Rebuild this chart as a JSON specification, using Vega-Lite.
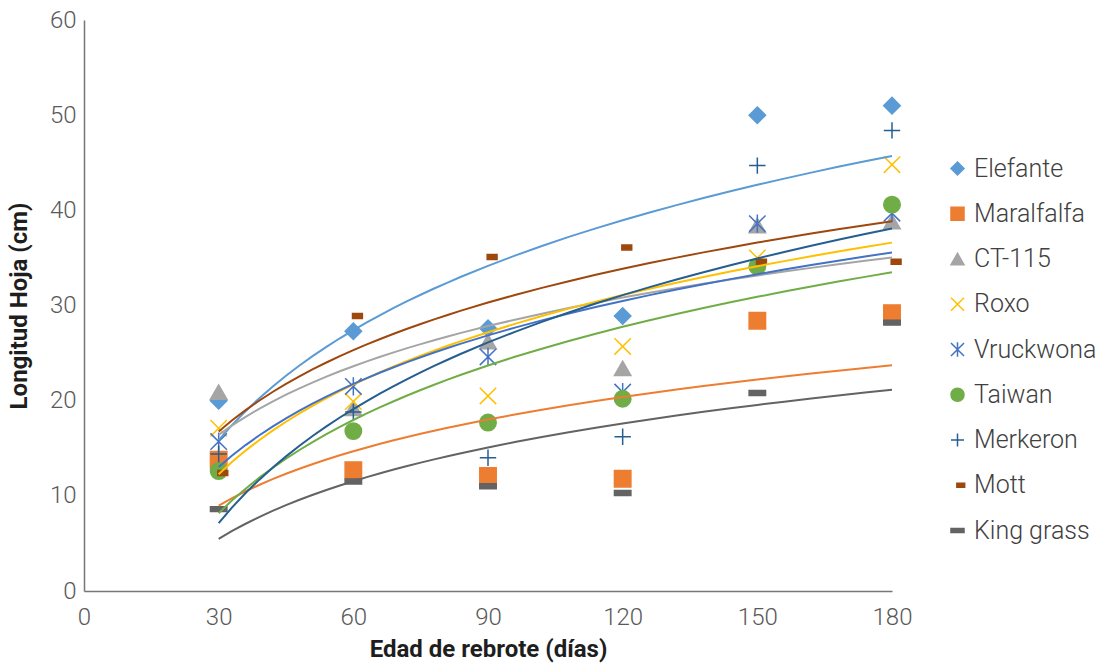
{
  "$schema": "https://vega.github.io/schema/vega-lite/v6.json",
  "autosize": {"type": "none"},
  "padding": {"left": 84, "top": 20, "right": 210, "bottom": 75},
  "width": 808,
  "height": 571,
  "background": "white",
  "config": {
    "font": "Roboto",
    "view": {"stroke": null},
    "axis": {
      "ticks": false,
      "grid": false,
      "domainColor": "#767676",
      "domainWidth": 1.5,
      "labelFontSize": 24,
      "labelColor": "#595959",
      "labelFontWeight": 300,
      "titleFontSize": 24,
      "titleFontWeight": "bold",
      "titleColor": "#1e1e1e"
    }
  },
  "data": {
    "values": [
      {"series": "Elefante", "x": 30, "y": 20.0},
      {"series": "Elefante", "x": 60, "y": 27.3},
      {"series": "Elefante", "x": 90, "y": 27.6},
      {"series": "Elefante", "x": 120, "y": 28.9},
      {"series": "Elefante", "x": 150, "y": 50.0},
      {"series": "Elefante", "x": 180, "y": 51.0},
      {"series": "Maralfalfa", "x": 30, "y": 13.8},
      {"series": "Maralfalfa", "x": 60, "y": 12.7},
      {"series": "Maralfalfa", "x": 90, "y": 12.1},
      {"series": "Maralfalfa", "x": 120, "y": 11.8},
      {"series": "Maralfalfa", "x": 150, "y": 28.4},
      {"series": "Maralfalfa", "x": 180, "y": 29.2},
      {"series": "CT-115", "x": 30, "y": 20.9},
      {"series": "CT-115", "x": 60, "y": 19.2},
      {"series": "CT-115", "x": 90, "y": 26.2},
      {"series": "CT-115", "x": 120, "y": 23.4},
      {"series": "CT-115", "x": 150, "y": 38.4},
      {"series": "CT-115", "x": 180, "y": 38.8},
      {"series": "Roxo", "x": 30, "y": 17.1},
      {"series": "Roxo", "x": 60, "y": 19.9},
      {"series": "Roxo", "x": 90, "y": 20.5},
      {"series": "Roxo", "x": 120, "y": 25.7},
      {"series": "Roxo", "x": 150, "y": 35.0},
      {"series": "Roxo", "x": 180, "y": 44.8},
      {"series": "Vruckwona", "x": 30, "y": 15.7},
      {"series": "Vruckwona", "x": 60, "y": 21.5},
      {"series": "Vruckwona", "x": 90, "y": 24.6},
      {"series": "Vruckwona", "x": 120, "y": 20.9},
      {"series": "Vruckwona", "x": 150, "y": 38.6},
      {"series": "Vruckwona", "x": 180, "y": 39.7},
      {"series": "Taiwan", "x": 30, "y": 12.6},
      {"series": "Taiwan", "x": 60, "y": 16.8},
      {"series": "Taiwan", "x": 90, "y": 17.7},
      {"series": "Taiwan", "x": 120, "y": 20.2},
      {"series": "Taiwan", "x": 150, "y": 34.1},
      {"series": "Taiwan", "x": 180, "y": 40.6},
      {"series": "Merkeron", "x": 30, "y": 14.4},
      {"series": "Merkeron", "x": 60, "y": 18.8},
      {"series": "Merkeron", "x": 90, "y": 14.0},
      {"series": "Merkeron", "x": 120, "y": 16.2},
      {"series": "Merkeron", "x": 150, "y": 44.7},
      {"series": "Merkeron", "x": 180, "y": 48.4},
      {"series": "Mott", "x": 30, "y": 12.4},
      {"series": "Mott", "x": 60, "y": 28.9},
      {"series": "Mott", "x": 90, "y": 35.1},
      {"series": "Mott", "x": 120, "y": 36.1},
      {"series": "Mott", "x": 150, "y": 34.6},
      {"series": "Mott", "x": 180, "y": 34.6},
      {"series": "King grass", "x": 30, "y": 8.6},
      {"series": "King grass", "x": 60, "y": 11.5},
      {"series": "King grass", "x": 90, "y": 11.0},
      {"series": "King grass", "x": 120, "y": 10.3},
      {"series": "King grass", "x": 150, "y": 20.8},
      {"series": "King grass", "x": 180, "y": 28.2}
    ]
  },
  "layer": [
    {
      "mark": {"type": "point", "filled": true, "strokeWidth": 1.5, "opacity": 1, "size": 270},
      "encoding": {
        "x": {
          "field": "x", "type": "quantitative",
          "scale": {"domain": [0, 180], "nice": false},
          "axis": {"values": [0, 30, 60, 90, 120, 150, 180], "labelFlush": false, "labelPadding": 14, "title": "Edad de rebrote (días)", "titlePadding": 8}
        },
        "y": {
          "field": "y", "type": "quantitative",
          "scale": {"domain": [0, 60], "nice": false},
          "axis": {"values": [0, 10, 20, 30, 40, 50, 60], "labelPadding": 8, "title": "Longitud Hoja (cm)", "titlePadding": 18}
        },
        "shape": {
          "field": "series", "type": "nominal",
          "scale": {
            "domain": ["Elefante", "Maralfalfa", "CT-115", "Roxo", "Vruckwona", "Taiwan", "Merkeron", "Mott", "King grass"],
            "range": ["diamond", "square", "triangle-up", "M-1,-1L1,1M-1,1L1,-1", "M-1,-1L1,1M-1,1L1,-1M0,-1.1L0,1.1", "circle", "M-1,0L1,0M0,-1L0,1", "M-0.1,-0.3L1.1,-0.3L1.1,0.3L-0.1,0.3Z", "M-1,-0.3L1,-0.3L1,0.3L-1,0.3Z"]
          },
          "legend": {"orient": "none", "legendX": 861, "legendY": 136, "title": null, "labelFontSize": 25, "labelColor": "#404040", "labelFontWeight": 300, "symbolSize": 170, "symbolStrokeWidth": 1.5, "rowPadding": 19.25, "labelOffset": 4}
        },
        "fill": {
          "field": "series", "type": "nominal",
          "scale": {
            "domain": ["Elefante", "Maralfalfa", "CT-115", "Roxo", "Vruckwona", "Taiwan", "Merkeron", "Mott", "King grass"],
            "range": ["#5B9BD5", "#ED7D31", "#A5A5A5", "#FFC000", "#4472C4", "#70AD47", "#255E91", "#9E480E", "#636363"]
          },
          "legend": {"orient": "none", "legendX": 861, "legendY": 136, "title": null, "labelFontSize": 25, "labelColor": "#404040", "labelFontWeight": 300, "symbolSize": 170, "symbolStrokeWidth": 1.5, "rowPadding": 19.25, "labelOffset": 4}
        },
        "stroke": {
          "field": "series", "type": "nominal",
          "scale": {
            "domain": ["Elefante", "Maralfalfa", "CT-115", "Roxo", "Vruckwona", "Taiwan", "Merkeron", "Mott", "King grass"],
            "range": ["#5B9BD5", "#ED7D31", "#A5A5A5", "#FFC000", "#4472C4", "#70AD47", "#255E91", "#9E480E", "#636363"]
          },
          "legend": {"orient": "none", "legendX": 861, "legendY": 136, "title": null, "labelFontSize": 25, "labelColor": "#404040", "labelFontWeight": 300, "symbolSize": 170, "symbolStrokeWidth": 1.5, "rowPadding": 19.25, "labelOffset": 4}
        }
      }
    },
    {
      "transform": [
        {"regression": "y", "on": "x", "groupby": ["series"], "method": "log", "extent": [30, 180]}
      ],
      "mark": {"type": "line", "strokeWidth": 2},
      "encoding": {
        "x": {"field": "x", "type": "quantitative"},
        "y": {"field": "y", "type": "quantitative"},
        "stroke": {"field": "series", "type": "nominal", "legend": null}
      }
    }
  ]
}
